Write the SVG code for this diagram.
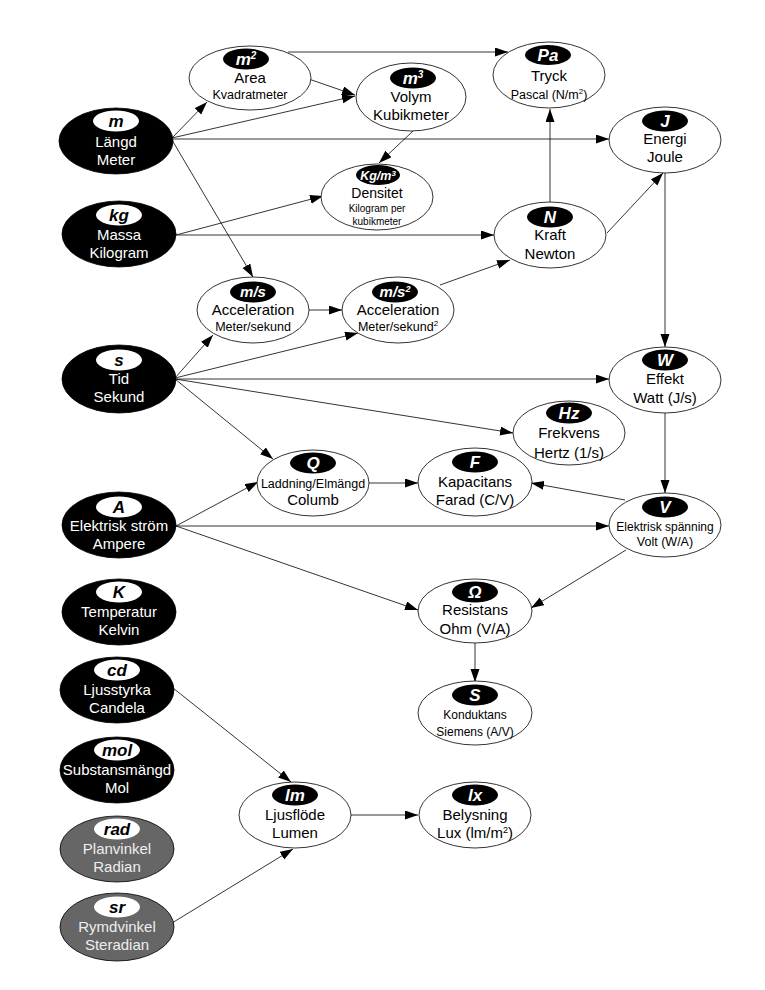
<svg xmlns="http://www.w3.org/2000/svg" width="765" height="990" viewBox="0 0 765 990">
<style>
text{font-family:"Liberation Sans",Arial,sans-serif;text-anchor:middle}
.wn{fill:#fff;stroke:#000;stroke-width:0.8}
.dn{fill:#000;stroke:#000;stroke-width:0.8}
.gn{fill:#666;stroke:#000;stroke-width:0.8}
.bp{fill:#000}
.wp{fill:#fff}
.pt{font-size:17px;font-weight:bold;font-style:italic}
.pw{fill:#fff}
.pb{fill:#000}
.t{font-size:15px;fill:#000}
.s{font-size:12.5px;fill:#000}
.tw{font-size:15px;fill:#fff}
.tg{font-size:15px;fill:#eee}
.e line{stroke:#000;stroke-width:0.8;marker-end:url(#ah)}
</style>
<defs>
<marker id="ah" markerUnits="userSpaceOnUse" markerWidth="14" markerHeight="10" refX="13" refY="4.5" orient="auto">
<path d="M0,0 L13,4.5 L0,9 z" fill="#000"/>
</marker>
</defs>
<rect width="765" height="990" fill="#fff"/>

<g id="connectors" class="e">
<line x1="172" y1="138" x2="207" y2="102"/>
<line x1="172" y1="138" x2="355" y2="96"/>
<line x1="303" y1="77" x2="355" y2="95"/>
<line x1="288" y1="52" x2="508" y2="52"/>
<line x1="173" y1="139" x2="609" y2="139"/>
<line x1="413" y1="131" x2="379" y2="163"/>
<line x1="176" y1="235" x2="323" y2="196"/>
<line x1="176" y1="235" x2="494" y2="235"/>
<line x1="172" y1="140" x2="253" y2="277"/>
<line x1="550" y1="202" x2="550" y2="109"/>
<line x1="607" y1="233" x2="663" y2="173"/>
<line x1="440" y1="285" x2="510" y2="260"/>
<line x1="665" y1="173" x2="665" y2="347"/>
<line x1="309" y1="310" x2="342" y2="310"/>
<line x1="175" y1="378" x2="213" y2="335"/>
<line x1="175" y1="378" x2="358" y2="333"/>
<line x1="175" y1="379" x2="609" y2="379"/>
<line x1="175" y1="379" x2="513" y2="433"/>
<line x1="175" y1="379" x2="273" y2="459"/>
<line x1="665" y1="413" x2="665" y2="493"/>
<line x1="625" y1="500" x2="531" y2="483"/>
<line x1="369" y1="483" x2="418" y2="483"/>
<line x1="176" y1="526" x2="258" y2="482"/>
<line x1="176" y1="526" x2="609" y2="526"/>
<line x1="176" y1="526" x2="418" y2="610"/>
<line x1="626" y1="550" x2="531" y2="608"/>
<line x1="475" y1="643" x2="475" y2="682"/>
<line x1="173" y1="688" x2="291" y2="782"/>
<line x1="172" y1="923" x2="293" y2="849"/>
<line x1="350" y1="815" x2="418" y2="815"/>
</g>

<!-- base units -->
<g id="n-m">
<ellipse class="dn" cx="116" cy="141" rx="57" ry="33"/>
<ellipse class="wp" cx="116" cy="121" rx="23" ry="10.5"/>
<text class="pt pb" x="116" y="127">m</text>
<text class="tw" x="116" y="147">Längd</text>
<text class="tw" x="116" y="165">Meter</text>
</g>
<g id="n-kg">
<ellipse class="dn" cx="119" cy="234" rx="57" ry="33"/>
<ellipse class="wp" cx="119" cy="215" rx="23" ry="10.5"/>
<text class="pt pb" x="119" y="221">kg</text>
<text class="tw" x="119" y="240">Massa</text>
<text class="tw" x="119" y="258">Kilogram</text>
</g>
<g id="n-s">
<ellipse class="dn" cx="119" cy="379" rx="57" ry="34"/>
<ellipse class="wp" cx="119" cy="360" rx="23" ry="10.5"/>
<text class="pt pb" x="119" y="366">s</text>
<text class="tw" x="119" y="384">Tid</text>
<text class="tw" x="119" y="402">Sekund</text>
</g>
<g id="n-A">
<ellipse class="dn" cx="119" cy="525" rx="57" ry="33"/>
<ellipse class="wp" cx="119" cy="507" rx="23" ry="10.5"/>
<text class="pt pb" x="119" y="513">A</text>
<text class="tw" x="119" y="531">Elektrisk ström</text>
<text class="tw" x="119" y="549">Ampere</text>
</g>
<g id="n-K">
<ellipse class="dn" cx="119" cy="612" rx="57" ry="33"/>
<ellipse class="wp" cx="119" cy="592" rx="23" ry="10.5"/>
<text class="pt pb" x="119" y="598">K</text>
<text class="tw" x="119" y="617">Temperatur</text>
<text class="tw" x="119" y="635">Kelvin</text>
</g>
<g id="n-cd">
<ellipse class="dn" cx="117" cy="690" rx="57" ry="33"/>
<ellipse class="wp" cx="117" cy="670" rx="23" ry="10.5"/>
<text class="pt pb" x="117" y="676">cd</text>
<text class="tw" x="117" y="695">Ljusstyrka</text>
<text class="tw" x="117" y="713">Candela</text>
</g>
<g id="n-mol">
<ellipse class="dn" cx="117" cy="770" rx="57" ry="33"/>
<ellipse class="wp" cx="117" cy="750" rx="23" ry="10.5"/>
<text class="pt pb" x="117" y="756">mol</text>
<text class="tw" x="117" y="775">Substansmängd</text>
<text class="tw" x="117" y="793">Mol</text>
</g>
<g id="n-rad">
<ellipse class="gn" cx="117" cy="849" rx="57" ry="33"/>
<ellipse class="wp" cx="117" cy="829" rx="23" ry="10.5"/>
<text class="pt pb" x="117" y="835">rad</text>
<text class="tg" x="117" y="854">Planvinkel</text>
<text class="tg" x="117" y="872">Radian</text>
</g>
<g id="n-sr">
<ellipse class="gn" cx="117" cy="927" rx="57" ry="34"/>
<ellipse class="wp" cx="117" cy="907" rx="23" ry="10.5"/>
<text class="pt pb" x="117" y="913">sr</text>
<text class="tg" x="117" y="932">Rymdvinkel</text>
<text class="tg" x="117" y="950">Steradian</text>
</g>

<!-- derived units -->
<g id="n-area">
<ellipse class="wn" cx="250" cy="78" rx="61" ry="32"/>
<ellipse class="bp" cx="246" cy="59" rx="23" ry="10.5"/>
<text class="pt pw" x="246" y="65">m<tspan style="font-size:10px" dy="-6">2</tspan></text>
<text class="t" x="250" y="83">Area</text>
<text class="s" x="250" y="99">Kvadratmeter</text>
</g>
<g id="n-volym">
<ellipse class="wn" cx="411" cy="97" rx="55" ry="34"/>
<ellipse class="bp" cx="413" cy="78" rx="23" ry="10.5"/>
<text class="pt pw" x="413" y="84">m<tspan style="font-size:10px" dy="-6">3</tspan></text>
<text class="t" x="411" y="102">Volym</text>
<text class="t" x="411" y="120">Kubikmeter</text>
</g>
<g id="n-densitet">
<ellipse class="wn" cx="377" cy="197" rx="56" ry="33"/>
<ellipse class="bp" cx="378" cy="175" rx="22" ry="10"/>
<text class="pt pw" x="378" y="180" style="font-size:12.5px">Kg/m<tspan style="font-size:8px" dy="-4">3</tspan></text>
<text x="377" y="198" style="font-size:14px">Densitet</text>
<text x="377" y="212" style="font-size:10px">Kilogram per</text>
<text x="377" y="225" style="font-size:10px">kubikmeter</text>
</g>
<g id="n-pa">
<ellipse class="wn" cx="549" cy="75" rx="56" ry="33"/>
<ellipse class="bp" cx="548" cy="55" rx="23" ry="10"/>
<text class="pt pw" x="548" y="61">Pa</text>
<text class="t" x="549" y="81">Tryck</text>
<text class="s" x="549" y="99">Pascal (N/m<tspan style="font-size:8px" dy="-5">2</tspan><tspan dy="5">)</tspan></text>
</g>
<g id="n-energi">
<ellipse class="wn" cx="665" cy="140" rx="56" ry="33"/>
<ellipse class="bp" cx="665" cy="121" rx="23" ry="10.5"/>
<text class="pt pw" x="665" y="127">J</text>
<text class="t" x="665" y="144">Energi</text>
<text class="t" x="665" y="162">Joule</text>
</g>
<g id="n-kraft">
<ellipse class="wn" cx="550" cy="235" rx="56" ry="33"/>
<ellipse class="bp" cx="550" cy="217" rx="23" ry="10.5"/>
<text class="pt pw" x="550" y="223">N</text>
<text class="t" x="550" y="240">Kraft</text>
<text class="t" x="550" y="259">Newton</text>
</g>
<g id="n-ms">
<ellipse class="wn" cx="253" cy="310" rx="56" ry="33"/>
<ellipse class="bp" cx="253" cy="292" rx="23" ry="10.5"/>
<text class="pt pw" x="253" y="297" style="font-size:15px">m/s</text>
<text class="t" x="253" y="315">Acceleration</text>
<text class="s" x="253" y="331">Meter/sekund</text>
</g>
<g id="n-ms2">
<ellipse class="wn" cx="398" cy="310" rx="56" ry="33"/>
<ellipse class="bp" cx="395" cy="292" rx="23" ry="10.5"/>
<text class="pt pw" x="395" y="297" style="font-size:15px">m/s<tspan style="font-size:9px" dy="-5">2</tspan></text>
<text class="t" x="398" y="315">Acceleration</text>
<text class="s" x="398" y="331">Meter/sekund<tspan style="font-size:8px" dy="-5">2</tspan></text>
</g>
<g id="n-effekt">
<ellipse class="wn" cx="665" cy="380" rx="56" ry="33"/>
<ellipse class="bp" cx="665" cy="360" rx="23" ry="10.5"/>
<text class="pt pw" x="665" y="366">W</text>
<text class="t" x="665" y="384">Effekt</text>
<text class="t" x="665" y="403">Watt (J/s)</text>
</g>
<g id="n-hz">
<ellipse class="wn" cx="569" cy="433" rx="56" ry="32"/>
<ellipse class="bp" cx="569" cy="413" rx="23" ry="10.5"/>
<text class="pt pw" x="569" y="419">Hz</text>
<text class="t" x="569" y="438">Frekvens</text>
<text class="t" x="569" y="458">Hertz (1/s)</text>
</g>
<g id="n-q">
<ellipse class="wn" cx="313" cy="483" rx="56" ry="33"/>
<ellipse class="bp" cx="313" cy="463" rx="23" ry="10.5"/>
<text class="pt pw" x="313" y="469">Q</text>
<text class="s" x="313" y="488">Laddning/Elmängd</text>
<text class="t" x="313" y="505">Columb</text>
</g>
<g id="n-f">
<ellipse class="wn" cx="475" cy="482" rx="57" ry="34"/>
<ellipse class="bp" cx="475" cy="462" rx="23" ry="10.5"/>
<text class="pt pw" x="475" y="468">F</text>
<text class="t" x="475" y="487">Kapacitans</text>
<text class="t" x="475" y="505">Farad (C/V)</text>
</g>
<g id="n-v">
<ellipse class="wn" cx="665" cy="525" rx="56" ry="32"/>
<ellipse class="bp" cx="665" cy="507" rx="23" ry="10.5"/>
<text class="pt pw" x="665" y="513">V</text>
<text x="665" y="531" style="font-size:12px">Elektrisk spänning</text>
<text class="s" x="665" y="546">Volt (W/A)</text>
</g>
<g id="n-ohm">
<ellipse class="wn" cx="475" cy="611" rx="57" ry="32"/>
<ellipse class="bp" cx="475" cy="592" rx="23" ry="10.5"/>
<text class="pt pw" x="475" y="598">Ω</text>
<text class="t" x="475" y="615">Resistans</text>
<text class="t" x="475" y="634">Ohm (V/A)</text>
</g>
<g id="n-siemens">
<ellipse class="wn" cx="475" cy="713" rx="57" ry="32"/>
<ellipse class="bp" cx="475" cy="695" rx="23" ry="10.5"/>
<text class="pt pw" x="475" y="701">S</text>
<text x="475" y="719" style="font-size:12px">Konduktans</text>
<text x="475" y="736" style="font-size:12px">Siemens (A/V)</text>
</g>
<g id="n-lm">
<ellipse class="wn" cx="295" cy="815" rx="56" ry="33"/>
<ellipse class="bp" cx="295" cy="795" rx="23" ry="10.5"/>
<text class="pt pw" x="295" y="801">lm</text>
<text class="t" x="295" y="820">Ljusflöde</text>
<text class="t" x="295" y="838">Lumen</text>
</g>
<g id="n-lx">
<ellipse class="wn" cx="475" cy="815" rx="56" ry="33"/>
<ellipse class="bp" cx="475" cy="795" rx="23" ry="10.5"/>
<text class="pt pw" x="475" y="801">lx</text>
<text class="t" x="475" y="820">Belysning</text>
<text class="t" x="475" y="838">Lux (lm/m<tspan style="font-size:9px" dy="-5">2</tspan><tspan dy="5">)</tspan></text>
</g>
</svg>
